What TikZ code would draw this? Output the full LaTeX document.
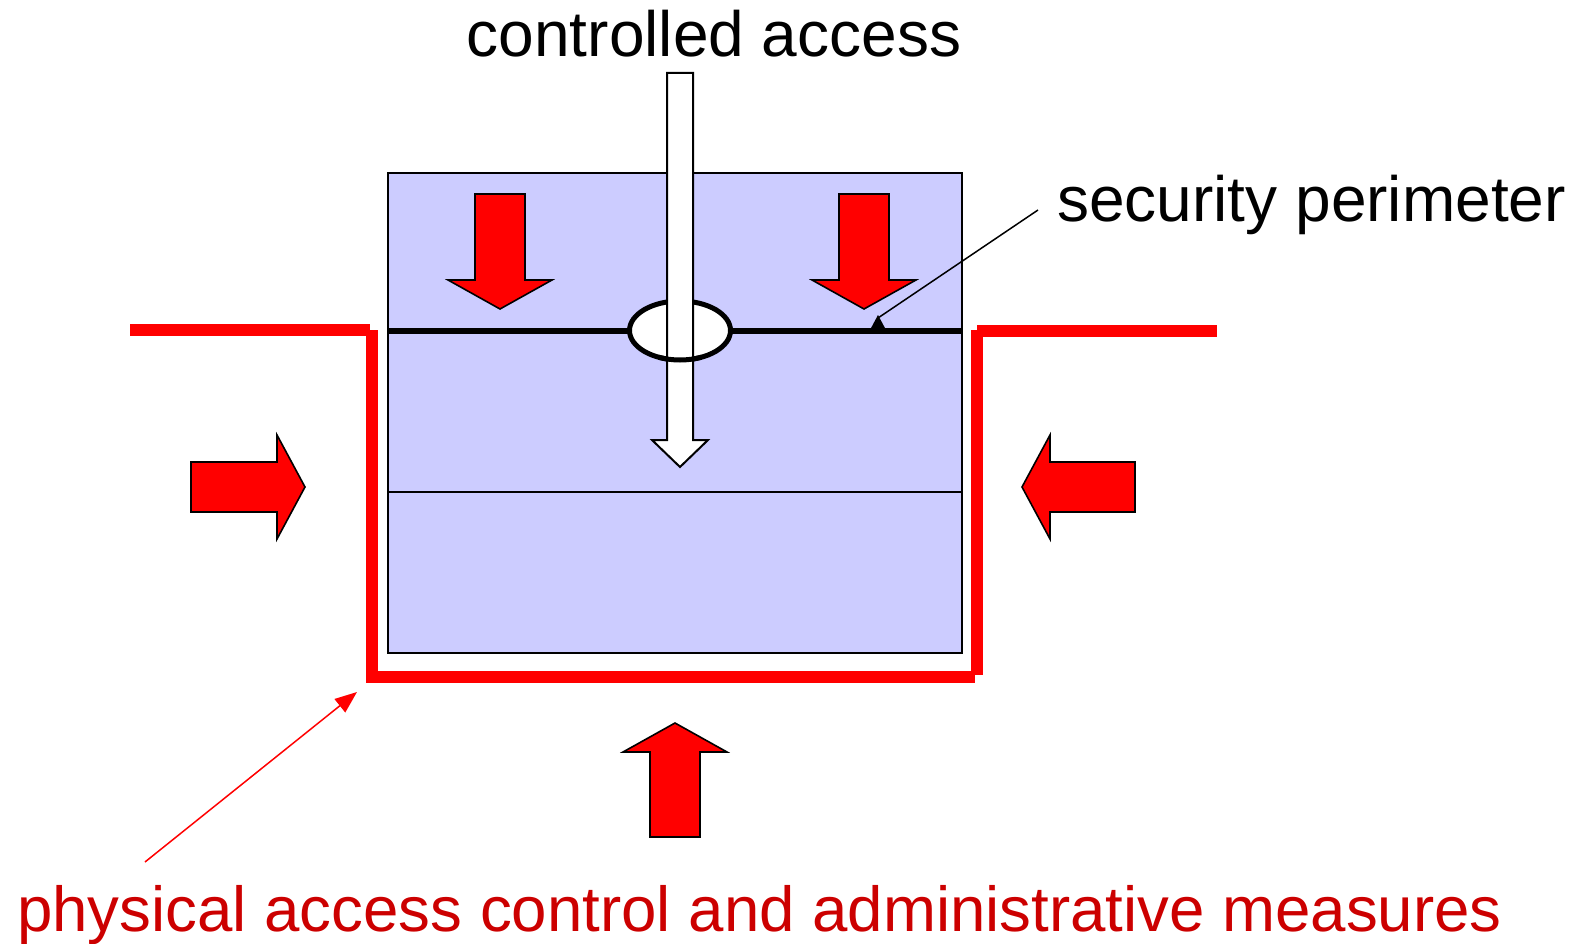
\documentclass[tikz,border=0pt]{standalone}
\usepackage{fontspec}
\setmainfont{Liberation Sans}
\usetikzlibrary{arrows.meta,shapes.geometric}
\definecolor{boxblue}{HTML}{CCCCFF}
\definecolor{labelred}{HTML}{CC0000}
\begin{document}
\begin{tikzpicture}[x=1pt,y=-1pt,
  blockarrow/.style={fill=red,draw=black,line width=1.6pt,line join=miter},
  whitearrow/.style={fill=white,draw=black,line width=2pt,line join=miter},
  lbl/.style={font=\fontsize{64}{76}\selectfont,inner sep=0pt},
  perim/.style={draw=red,line width=12pt}]
\useasboundingbox (0,0) rectangle (1583,944);

% protected area
\node[draw=black, fill=boxblue, line width=1.8pt, minimum width=574pt, minimum height=480pt,
      anchor=north west, inner sep=0pt] (box) at (387,172) {};
\coordinate (l1w) at (387,330.5);
\coordinate (l1e) at (961,330.5);
\coordinate (l2w) at (387,492);
\coordinate (l2e) at (961,492);
\draw[line width=2pt] (l2w) -- (l2e);
\draw[line width=6pt] (l1w) -- (l1e);

% red perimeter
\coordinate (r1) at (130,330);
\coordinate (r2) at (370,330);
\coordinate (r3) at (371.5,330);
\coordinate (r4) at (371.5,682.5);
\coordinate (r5) at (371.5,676.5);
\coordinate (r6) at (975,676.5);
\coordinate (r7) at (977,330);
\coordinate (r8) at (977,675);
\coordinate (r9) at (977,331);
\coordinate (r10) at (1217,331);
\draw[perim] (r1) -- (r2);
\draw[perim] (r3) -- (r4);
\draw[perim] (r5) -- (r6);
\draw[perim] (r7) -- (r8);
\draw[perim] (r9) -- (r10);

% gate
\node[ellipse, draw=black, fill=white, line width=5pt, minimum width=101pt, minimum height=59pt,
      inner sep=0pt] (gate) at (680,330.5) {};

% controlled access arrow
\draw[whitearrow] (667,73) -- (693,73) -- (693,440) -- (708,440) -- (680,467) -- (652,440) -- (667,440) -- cycle;
\draw[line width=5pt] ([shift={(680,330.5)}] 245:50.5pt and 29.5pt)
   arc [start angle=245, end angle=295, x radius=50.5pt, y radius=29.5pt];

% red block arrows
\draw[blockarrow] (475,194) -- (525,194) -- (525,280) -- (552,280) -- (500,309) -- (448,280) -- (475,280) -- cycle;
\draw[blockarrow] (839,194) -- (889,194) -- (889,280) -- (916,280) -- (864,309) -- (812,280) -- (839,280) -- cycle;
\draw[blockarrow] (191,462) -- (277,462) -- (277,435) -- (305,487) -- (277,539) -- (277,512) -- (191,512) -- cycle;
\draw[blockarrow] (1135,462) -- (1050,462) -- (1050,435) -- (1022,487) -- (1050,539) -- (1050,512) -- (1135,512) -- cycle;
\draw[blockarrow] (650,837) -- (700,837) -- (700,752) -- (727,752) -- (675,723) -- (623,752) -- (650,752) -- cycle;

% labels
\node[lbl, anchor=base] (ca) at (714,57) {controlled access};
\node[lbl, anchor=base west] (sp) at (1057,222) {security perimeter};
\node[lbl, anchor=base west, text=labelred, font=\fontsize{63.6}{76}\selectfont] (pm) at (17,931) {physical access control and administrative measures};

% leaders
\coordinate (spStart) at (1038,210);
\coordinate (spTip) at (878,318);
\draw[line width=1.5pt] (spStart) -- (spTip);
\fill[black] (878,315) -- (870.5,329) -- (885.5,329) -- cycle;
\coordinate (pmStart) at (145,862);
\coordinate (pmTip) at (357,692);
\draw[red, line width=1.5pt, -{Triangle[length=22pt,width=17pt]}] (pmStart) -- (pmTip);
\end{tikzpicture}
\end{document}
